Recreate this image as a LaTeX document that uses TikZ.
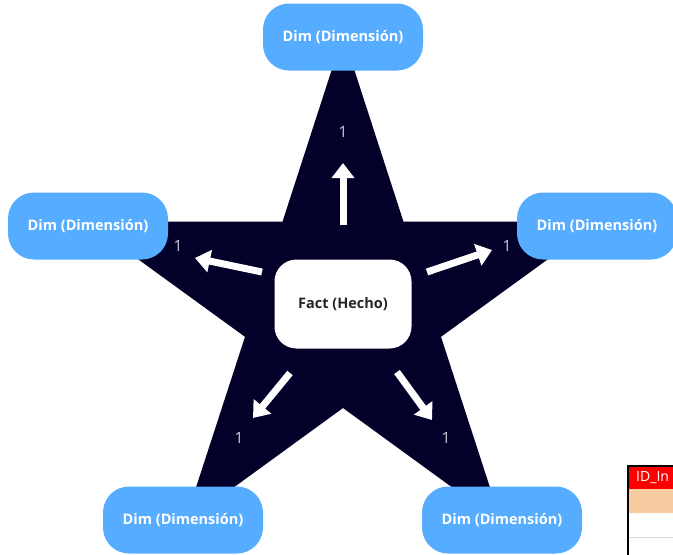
\documentclass[tikz,border=0pt]{standalone}
\usepackage{fontspec}
\setmainfont{Open Sans}
\usetikzlibrary{arrows.meta}

\definecolor{starnavy}{RGB}{3,1,42}
\definecolor{dimblue}{RGB}{86,172,255}
\definecolor{onegray}{RGB}{204,204,212}
\definecolor{hdrred}{RGB}{255,0,0}
\definecolor{rowpeach}{RGB}{249,203,160}

\begin{document}
\begin{tikzpicture}[x=1pt, y=-1pt,
		dimbox/.style={rectangle, rounded corners=26pt, fill=dimblue, minimum width=160pt, minimum height=67pt, text=white, font=\fontsize{14.5}{17}\selectfont\bfseries},
		factbox/.style={rectangle, rounded corners=22pt, fill=white, minimum width=137pt, minimum height=89pt, text=black!85, font=\fontsize{14.5}{17}\selectfont\bfseries},
		card/.style={text=onegray, inner sep=0pt, font=\fontsize{15.5}{18}\selectfont},
		fatarrow/.style={white, line width=7pt, -{Triangle[width=22pt,length=15pt]}}]
		\useasboundingbox (0,0) rectangle (673,555);
		\clip (0,0) rectangle (673,555);
		
		% star
		\fill[starnavy] (343,35) -- (403.5,221.7) -- (599.8,221.6) -- (441,336.8) -- (501.7,523.4) -- (343,408)
			-- (184.3,523.4) -- (245,336.8) -- (86.2,221.6) -- (282.5,221.7) -- cycle;
		
		\node[factbox] (fact) at (343,304) {Fact (Hecho)};
		
		\node[dimbox] (dimTop)   at (343,37)  {Dim (Dimensión)};
		\node[dimbox] (dimLeft)  at (88,226)  {Dim (Dimensión)};
		\node[dimbox] (dimRight) at (597,226) {Dim (Dimensión)};
		\node[dimbox] (dimBL)    at (183,520) {Dim (Dimensión)};
		\node[dimbox] (dimBR)    at (502,520) {Dim (Dimensión)};
		
		% arrows
		\coordinate (tTop)   at (343,225); \coordinate (hTop)   at (343,163);
		\coordinate (tLeft)  at (262,272); \coordinate (hLeft)  at (195,258);
		\coordinate (tRight) at (427,272); \coordinate (hRight) at (492,250);
		\coordinate (tBL)    at (290,373); \coordinate (hBL)    at (253,418);
		\coordinate (tBR)    at (397,372); \coordinate (hBR)    at (432,420);
		\draw[fatarrow] (tTop) -- (hTop);
		\draw[fatarrow] (tLeft) -- (hLeft);
		\draw[fatarrow] (tRight) -- (hRight);
		\draw[fatarrow] (tBL) -- (hBL);
		\draw[fatarrow] (tBR) -- (hBR);
		
		\node[card] (oneTop)   at (343,132) {1};
		\node[card] (oneLeft)  at (178,246) {1};
		\node[card] (oneRight) at (507,246) {1};
		\node[card] (oneBL)    at (239,438) {1};
		\node[card] (oneBR)    at (446,438) {1};
		
		% table corner
		\fill[hdrred] (628,466) rectangle (673,489);
		\fill[rowpeach] (628,489) rectangle (673,513);
		\draw[black!15] (628,537) -- (673,537);
		\draw[line width=2.5pt] (628,555) -- (628,466) -- (673,466);
		\node[anchor=west, inner sep=0pt, text=white, font=\fontsize{14}{16}\selectfont] (hdr) at (636,478) {ID\_In};
	\end{tikzpicture}
\end{document}
